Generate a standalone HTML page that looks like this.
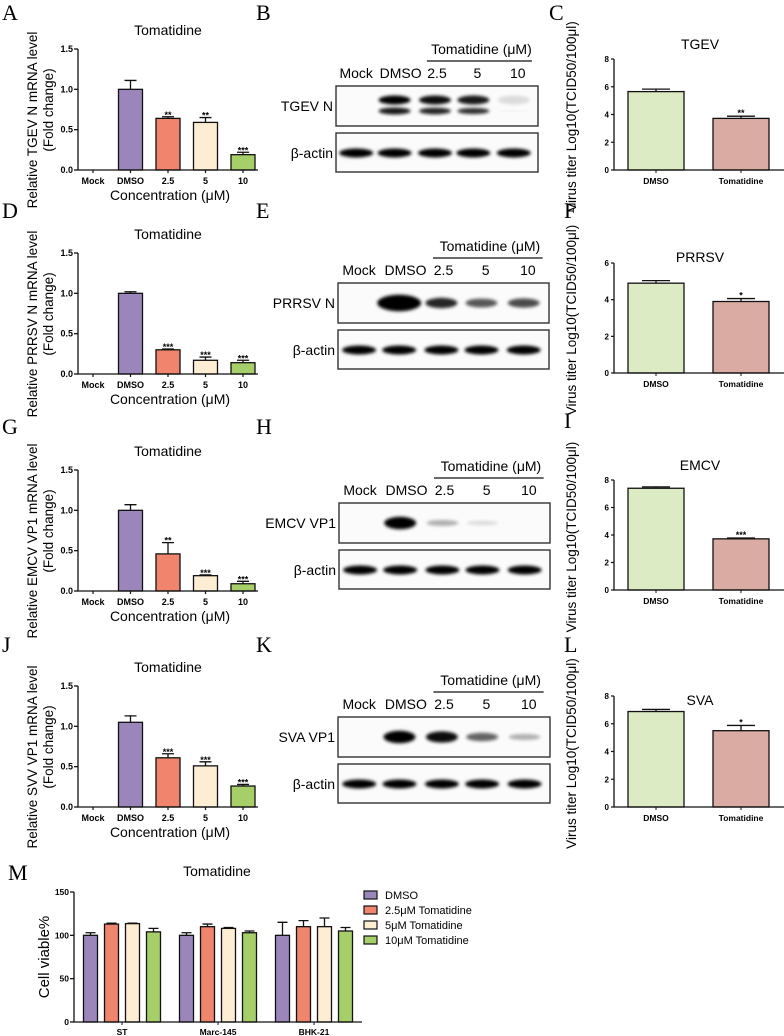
<!DOCTYPE html>
<html><head><meta charset="utf-8"><style>
body{margin:0;background:#fff}
svg{display:block;font-family:"Liberation Sans",Arial,sans-serif}
</style></head><body>
<svg id="fig" width="784" height="1036" viewBox="0 0 784 1036" xmlns="http://www.w3.org/2000/svg">
<defs>
<filter id="blur" x="-50%" y="-100%" width="200%" height="300%"><feGaussianBlur stdDeviation="1.6"/></filter>
</defs>
</svg>
<script>
// ---- data ----
const mrnaCats=["Mock","DMSO","2.5","5","10"];
const mrnaA=[0,1.0,0.64,0.59,0.19];
const errA=[0,0.11,0.02,0.06,0.03];
const sigA=["","","**","**","***"];
const mrnaD=[0,1.0,0.30,0.17,0.14];
const errD=[0,0.02,0.01,0.04,0.03];
const sigD=["","","***","***","***"];
const mrnaG=[0,1.0,0.46,0.19,0.09];
const errG=[0,0.07,0.14,0.01,0.03];
const sigG=["","","**","***","***"];
const mrnaJ=[0,1.05,0.61,0.51,0.26];
const errJ=[0,0.08,0.05,0.05,0.02];
const sigJ=["","","***","***","***"];
const mrnaTicks=["0.0","0.5","1.0","1.5"];
const titerCats=["DMSO","Tomatidine"];
const titerC=[5.65,3.72];
const titerErrC=[0.18,0.16];
const titerSigC=["","**"];
const titerF=[4.9,3.9];
const titerErrF=[0.14,0.16];
const titerSigF=["","*"];
const titerI=[7.4,3.72];
const titerErrI=[0.1,0.06];
const titerSigI=["","***"];
const titerL=[6.88,5.5];
const titerErrL=[0.15,0.38];
const titerSigL=["","*"];
const mCats=["ST","Marc-145","BHK-21"];
const mSeries=["DMSO","2.5μM Tomatidine","5μM Tomatidine","10μM Tomatidine"];
const mDMSO=[100,100,100];
const m25=[113,110,110];
const m5=[113.5,108,110];
const m10=[104,103,105];
const eDMSO=[3,3,15];
const e25=[1,3,7];
const e5=[0.5,1,10];
const e10=[4,2,4];
const mTicks=[0,50,100,150];

const svg=document.getElementById('fig');
const NS='http://www.w3.org/2000/svg';
function mk(tag,attrs,parent){const e=document.createElementNS(NS,tag);for(const k in attrs)e.setAttribute(k,attrs[k]);(parent||svg).appendChild(e);return e;}
function txt(s,attrs,parent){const e=mk('text',attrs,parent);e.textContent=s;return e;}
const barCols=["#9b86bc","#f0846c","#fdedd2","#a7cf68"];

const letters=[["A",2,20],["B",256,20],["C",549,20],["D",2,218],["E",256,218],["F",564,218],["G",2,434],["H",256,434],["I",564,428],["J",2,652],["K",256,652],["L",564,652],["M",8,880]];
letters.forEach(l=>{const t=txt(l[0],{x:l[1],y:l[2],'font-family':'Liberation Serif, serif','font-size':22});

});

function mrnaPanel(y0,vals,errs,sigs,ylab,key){
  const g=mk('g',{});
  
  
  const ax=78, h=121, max=1.5;
  const ys=v=>y0-v/max*h;
  const xs=i=>93+i*37.5;
  const t=txt('Tomatidine',{x:168,y:ys(1.5)-14,'text-anchor':'middle','font-size':14},g);
  
  
  vals.forEach((v,i)=>{
    if(i===0)return;
    const b=mk('rect',{x:xs(i)-12,y:ys(v),width:24,height:y0-ys(v),fill:barCols[i-1],stroke:'#111','stroke-width':1.3},g);
    
    
    const te=ys(v+errs[i]);
    mk('path',{d:`M${xs(i)} ${ys(v)}V${te}M${xs(i)-6} ${te}H${xs(i)+6}`,stroke:'#111','stroke-width':1.3,fill:'none'},g);
    if(sigs[i]){const s=txt(sigs[i],{x:xs(i),y:te+1,'text-anchor':'middle','font-size':9,'font-weight':'bold'},g);
      
      }
  });
  mk('path',{d:`M${ax} ${ys(1.5)}V${y0}H258`,stroke:'#111','stroke-width':1.3,fill:'none'},g);
  mrnaTicks.forEach(tk=>{const v=parseFloat(tk);mk('line',{x1:ax-4,x2:ax,y1:ys(v),y2:ys(v),stroke:'#111','stroke-width':1.3},g);
    const l=txt(tk,{x:ax-5,y:ys(v)+3,'text-anchor':'end','font-size':9,'font-weight':'bold'},g);
    
    });
  mrnaCats.forEach((c,i)=>{mk('line',{x1:xs(i),x2:xs(i),y1:y0,y2:y0+3,stroke:'#111','stroke-width':1.2},g);
    const l=txt(c,{x:xs(i),y:y0+14,'text-anchor':'middle','font-size':9,'font-weight':'bold'},g);
    
    });
  const xl=txt('Concentration (μM)',{x:170,y:y0+30,'text-anchor':'middle','font-size':14},g);
  
  
  const cy=y0-50;
  const yl=txt(ylab,{x:0,y:0,'text-anchor':'middle','font-size':13.5,transform:`translate(37,${cy}) rotate(-90)`},g);
  
  
  const yl2=txt('(Fold change)',{x:0,y:0,'text-anchor':'middle','font-size':13.5,transform:`translate(53,${cy-10}) rotate(-90)`},g);
  
  
}
mrnaPanel(170,mrnaA,errA,sigA,'Relative TGEV N mRNA level','a');
mrnaPanel(374,mrnaD,errD,sigD,'Relative PRRSV N mRNA level','d');
mrnaPanel(591,mrnaG,errG,sigG,'Relative EMCV VP1 mRNA level','g');
mrnaPanel(807,mrnaJ,errJ,sigJ,'Relative SVV VP1 mRNA level','j');

function titerPanel(y0,yTop,max,step,vals,errs,sigs,title,titleY,key){
  const g=mk('g',{});
  
  
  const ax=614, ys=v=>y0-v/max*(y0-yTop), xs=[656,741];
  vals.forEach((v,i)=>{
    const b=mk('rect',{x:xs[i]-28,y:ys(v),width:56,height:y0-ys(v),fill:i?'#d9aba3':'#dcebc4',stroke:'#111','stroke-width':1.3},g);
    
    
    const te=ys(v+errs[i]);
    mk('path',{d:`M${xs[i]} ${ys(v)}V${te}M${xs[i]-14} ${te}H${xs[i]+14}`,stroke:'#111','stroke-width':1.3,fill:'none'},g);
    if(sigs[i]){const s=txt(sigs[i],{x:xs[i],y:te,'text-anchor':'middle','font-size':9,'font-weight':'bold'},g);
      
      }
  });
  mk('path',{d:`M${ax} ${yTop}V${y0}H784`,stroke:'#111','stroke-width':1.3,fill:'none'},g);
  for(let v=0;v<=max;v+=step){mk('line',{x1:ax-3,x2:ax,y1:ys(v),y2:ys(v),stroke:'#111','stroke-width':1.2},g);
    const l=txt(String(v),{x:ax-5,y:ys(v)+3,'text-anchor':'end','font-size':8,'font-weight':'bold'},g);
    
    }
  titerCats.forEach((c,i)=>{mk('line',{x1:xs[i],x2:xs[i],y1:y0,y2:y0+3,stroke:'#111'},g);
    const l=txt(c,{x:xs[i],y:y0+14,'text-anchor':'middle','font-size':8.5,'font-weight':'bold'},g);
    
    });
  const t=txt(title,{x:700,y:titleY,'text-anchor':'middle','font-size':14},g);
  
  
  const yl=txt('Virus titer Log10(TCID50/100μl)',{x:0,y:0,'text-anchor':'middle','font-size':13.5,transform:`translate(576,${(y0+yTop)/2+2}) rotate(-90)`},g);
  
  
}
titerPanel(170,59,8,2,titerC,titerErrC,titerSigC,'TGEV',49,'c');
titerPanel(373,263,6,2,titerF,titerErrF,titerSigF,'PRRSV',262,'f');
titerPanel(590,480,8,2,titerI,titerErrI,titerSigI,'EMCV',470,'i');
titerPanel(807,696,8,2,titerL,titerErrL,titerSigL,'SVA',705,'l');

// western blots
const blotLanes=["Mock","DMSO","2.5","5","10"];
const laneFrac=[0.1,0.29,0.49,0.68,0.88];
const labelFrac=[0.1,0.32,0.5,0.7,0.9];
function blot(x0,x1,top,label,inten,doublet,key){
  const g=mk('g',{});
  
  
  const w=x1-x0, lx=f=>x0+f*w;
  const ht=txt('Tomatidine (μM)',{x:lx(0.72),y:top-32,'text-anchor':'middle','font-size':14},g);
  
  
  mk('line',{x1:lx(0.45),x2:lx(0.97),y1:top-25,y2:top-25,stroke:'#111','stroke-width':1.3},g);
  blotLanes.forEach((n,i)=>{const l=txt(n,{x:lx(labelFrac[i]),y:top-8,'text-anchor':'middle','font-size':14},g);
    
    });
  const b1=mk('rect',{x:x0,y:top,width:w,height:40,fill:'#fbfbfb',stroke:'#333','stroke-width':1.4},g);
  
  
  const b2=mk('rect',{x:x0,y:top+47,width:w,height:39,fill:'#fbfbfb',stroke:'#333','stroke-width':1.4},g);
  
  
  const l1=txt(label,{x:x0-3,y:top+25,'text-anchor':'end','font-size':14},g);
  
  
  const l2=txt('β-actin',{x:x0-3,y:top+72,'text-anchor':'end','font-size':14},g);
  
  
  inten.forEach((v,i)=>{
    const cx=lx(laneFrac[i]);
    mk('ellipse',{cx:cx,cy:top+67,rx:17,ry:4.5,fill:'#000',filter:'url(#blur)'},g);
    if(v<=0)return;
    const op=Math.min(1,v);
    if(doublet){
      mk('ellipse',{cx:cx,cy:top+14,rx:16,ry:4.5,fill:'#000',opacity:op,filter:'url(#blur)'},g);
      mk('ellipse',{cx:cx,cy:top+25,rx:16,ry:3.5*v,fill:'#000',opacity:op*0.9,filter:'url(#blur)'},g);
    } else {
      mk('ellipse',{cx:cx,cy:top+20,rx:v>1.2?22:16,ry:Math.max(1,3+4*(v-0.3)),fill:'#000',opacity:op,filter:'url(#blur)'},g);
    }
  });
}
blot(336,538,86,'TGEV N',[0,1,0.95,0.9,0.12],true,'b');
blot(338,549,283,'PRRSV N',[0,1.6,0.85,0.65,0.7],false,'e');
blot(339,550,503,'EMCV VP1',[0,1.1,0.3,0.12,0],false,'h');
blot(338,550,717,'SVA VP1',[0,1.1,0.95,0.6,0.3],false,'k');

// panel M
(function(){
  const g=mk('g',{});
  
  
  const y0=1022,yTop=892,max=150,ax=74;
  const ys=v=>y0-v/max*(y0-yTop);
  const centers=[122,218,314];
  const series=[mDMSO,m25,m5,m10], errs=[eDMSO,e25,e5,e10];
  series.forEach((arr,s)=>{arr.forEach((v,i)=>{
    const cx=centers[i]+(s-1.5)*21;
    const b=mk('rect',{x:cx-7,y:ys(v),width:14,height:y0-ys(v),fill:barCols[s],stroke:'#111','stroke-width':1.3},g);
    
    
    const te=ys(v+errs[s][i]);
    mk('path',{d:`M${cx} ${ys(v)}V${te}M${cx-5} ${te}H${cx+5}`,stroke:'#111','stroke-width':1.3,fill:'none'},g);
  });});
  mk('path',{d:`M${ax} ${yTop}V${y0}H362`,stroke:'#111','stroke-width':1.3,fill:'none'},g);
  mTicks.forEach(v=>{mk('line',{x1:ax-4,x2:ax,y1:ys(v),y2:ys(v),stroke:'#111','stroke-width':1.3},g);
    const l=txt(String(v),{x:ax-5,y:ys(v)+3,'text-anchor':'end','font-size':8.5,'font-weight':'bold'},g);
    
    });
  mCats.forEach((c,i)=>{mk('line',{x1:centers[i],x2:centers[i],y1:y0,y2:y0+3,stroke:'#111'},g);
    const l=txt(c,{x:centers[i],y:y0+13,'text-anchor':'middle','font-size':8.5,'font-weight':'bold'},g);
    
    });
  const t=txt('Tomatidine',{x:217,y:876,'text-anchor':'middle','font-size':14},g);
  
  
  const yl=txt('Cell viable%',{x:0,y:0,'text-anchor':'middle','font-size':15,transform:'translate(49,957) rotate(-90)'},g);
  
  
  mSeries.forEach((s,i)=>{
    const y=895+i*15;
    const sw=mk('rect',{x:364,y:y-4,width:13,height:8,fill:barCols[i],stroke:'#111','stroke-width':1.2},g);
    
    
    const l=txt(s,{x:385,y:y+4,'font-size':11},g);
    
    
  });
})();
</script>
</body></html>
